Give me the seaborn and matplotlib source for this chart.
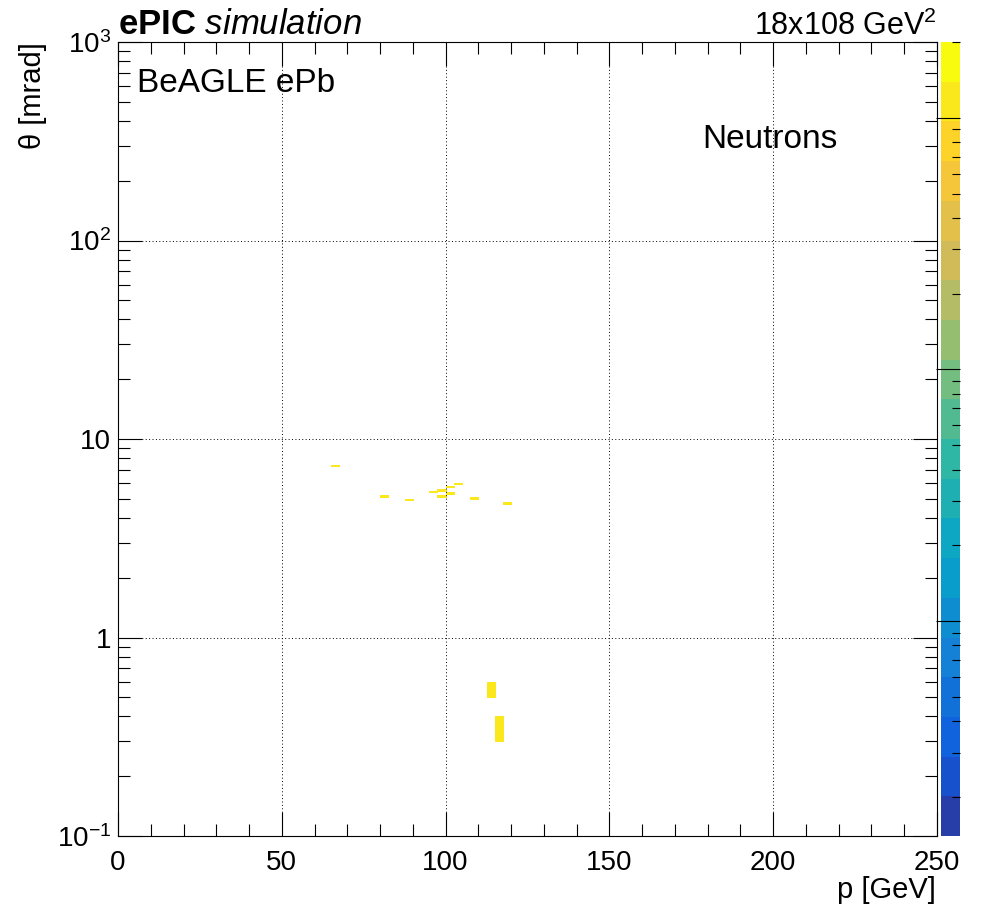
import numpy as np
import matplotlib
matplotlib.use("Agg")
import matplotlib.pyplot as plt
from matplotlib.colors import LinearSegmentedColormap, ListedColormap, LogNorm
from matplotlib.ticker import MultipleLocator, LogLocator, NullFormatter, FixedLocator, FixedFormatter
import seaborn as sns

# ---------------- data (bin centres of filled cells) ----------------
p_gev = [66.25, 81.25, 88.75, 96.25, 98.75, 98.75, 101.25, 101.25, 103.75,
         108.75, 118.75, 113.75, 116.25]
theta_mrad = [7.35, 5.15, 4.95, 5.45, 5.55, 5.15, 5.75, 5.35, 5.95,
              5.05, 4.75, 0.55, 0.35]
counts = [1, 1, 1, 1, 1, 1, 1, 1, 1, 1, 1, 1, 1]

x_ticks = [0, 50, 100, 150, 200, 250]
x_tick_labels = ["0", "50", "100", "150", "200", "250"]
y_ticks = [0.1, 1, 10, 100, 1000]
y_tick_labels = ["$10^{-1}$", "1", "10", "$10^{2}$", "$10^{3}$"]

p_binwidth = 2.5      # GeV
theta_binwidth = 0.1  # mrad

# ---------------- style ----------------
sns.set_style("ticks")
plt.rcParams["font.family"] = ["Liberation Sans", "DejaVu Sans"]
plt.rcParams["mathtext.fontset"] = "custom"
plt.rcParams["mathtext.rm"] = "Liberation Sans"
plt.rcParams["mathtext.it"] = "Liberation Sans:italic"
plt.rcParams["mathtext.bf"] = "Liberation Sans:bold"
plt.rcParams["text.color"] = "black"
plt.rcParams["axes.labelcolor"] = "black"
plt.rcParams["xtick.color"] = "black"
plt.rcParams["ytick.color"] = "black"
plt.rcParams["axes.axisbelow"] = False

# ROOT kBird palette, 20 contour levels
stops = [0.0, 0.125, 0.25, 0.375, 0.5, 0.625, 0.75, 0.875, 1.0]
red = [0.2082, 0.0592, 0.0780, 0.0232, 0.1802, 0.5301, 0.8186, 0.9956, 0.9764]
green = [0.1664, 0.3599, 0.5041, 0.6419, 0.7178, 0.7492, 0.7328, 0.7862, 0.9832]
blue = [0.5293, 0.8684, 0.8385, 0.7914, 0.6425, 0.4662, 0.3499, 0.1968, 0.0539]
bird = LinearSegmentedColormap.from_list(
    "bird", [(s, (r, g, b)) for s, r, g, b in zip(stops, red, green, blue)], N=255)
ndiv = 20
idx = [int((k + 0.99) * 255 / ndiv) for k in range(ndiv)]
cmap20 = ListedColormap([bird(i / 254.0) for i in idx])

W, H = 982, 907
fig = plt.figure(figsize=(W / 100, H / 100), dpi=100)
L, R, T, B = 118, 937, 42, 836
ax = fig.add_axes([L / W, 1 - B / H, (R - L) / W, (B - T) / H])
cax = fig.add_axes([941 / W, 1 - B / H, 19 / W, (B - T) / H])

p_edges = np.arange(0, 250 + p_binwidth, p_binwidth)
theta_edges = np.round(np.arange(1, 201) * theta_binwidth, 1)

sns.histplot(x=p_gev, y=theta_mrad, weights=counts,
             bins=[list(p_edges), list(np.log10(theta_edges))],
             log_scale=(False, True), cmap=cmap20, cbar=False, ax=ax)

mesh = ax.collections[0]
mesh.set_norm(LogNorm(vmin=0.0014, vmax=2.0))
mesh.set_cmap(cmap20)
mesh.set_edgecolor("face")
mesh.set_linewidth(0.6)

ax.set_xlim(0, 250)
ax.set_ylim(0.1, 1000)
ax.set_xlabel("")
ax.set_ylabel("")

ax.xaxis.set_major_locator(FixedLocator(x_ticks))
ax.xaxis.set_major_formatter(FixedFormatter(x_tick_labels))
ax.xaxis.set_minor_locator(MultipleLocator(10))
ax.yaxis.set_major_locator(FixedLocator(y_ticks))
ax.yaxis.set_major_formatter(FixedFormatter(y_tick_labels))
ax.yaxis.set_minor_locator(LogLocator(base=10, subs=np.arange(2, 10), numticks=20))
ax.yaxis.set_minor_formatter(NullFormatter())

ax.tick_params(which="both", direction="in", bottom=True, left=True, top=True, right=True,
               color="black", width=0.8, labelsize=20, labelcolor="black")
ax.tick_params(which="major", length=17)
ax.tick_params(which="minor", length=8.6)
ax.tick_params(axis="x", which="major", pad=10)
ax.tick_params(axis="y", which="major", pad=5)

ax.grid(True, which="major", color="black", linestyle=(0, (1, 2.5)), linewidth=0.7)
ax.set_axisbelow(False)
for s in ax.spines.values():
    s.set_visible(True)
    s.set_color("black")
    s.set_linewidth(0.8)

cb = fig.colorbar(mesh, cax=cax)
cb.outline.set_visible(False)
cax.set_axisbelow(False)
cb.ax.minorticks_on()
cb.ax.tick_params(which="both", direction="in", right=True, left=False,
                  labelright=False, labelleft=False, color="black", width=0.8)
cb.ax.tick_params(which="major", length=17)
cb.ax.tick_params(which="minor", length=6)

# ---------------- texts ----------------
def fx(x):
    return x / W

def fy(y):
    return 1 - y / H

fig.text(fx(118), fy(34), r"$\mathbf{ePIC}$ $\mathit{simulation}$", fontsize=25,
         ha="left", va="baseline")
fig.text(fx(937), fy(35), r"18x108 GeV$^{2}$", fontsize=22, ha="right", va="baseline")
fig.text(fx(137), fy(92), "BeAGLE ePb", fontsize=24, ha="left", va="baseline")
fig.text(fx(702), fy(148), "Neutrons", fontsize=24, ha="left", va="baseline")
fig.text(fx(936), fy(898), "p [GeV]", fontsize=21, ha="right", va="baseline")
fig.text(fx(33), fy(42), "θ [mrad]", fontsize=21, rotation=90, ha="center", va="top")

fig.savefig("out.png", dpi=100, facecolor="white")
